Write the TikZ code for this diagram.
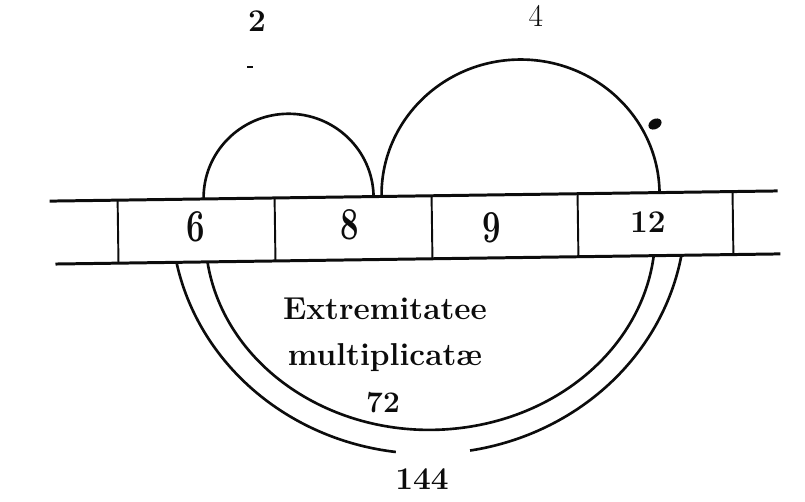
\documentclass[tikz,border=0pt]{standalone}
\usepackage{graphicx}
\usepackage{tikz}
\usetikzlibrary{calc}
\definecolor{Ink}{RGB}{12,12,12}
\newcommand{\narrowdigit}[1]{\scalebox{0.72}[1]{#1}}
\tikzset{
  rule/.style={draw=Ink, line width=1.7pt},
  divider/.style={draw=Ink, line width=1.1pt},
  curve/.style={draw=Ink, line width=1.5pt},
  cellnum/.style={font=\fontsize{26}{28}\selectfont\bfseries, text=Ink, inner sep=0pt},
  smallnum/.style={font=\fontsize{18}{21}\selectfont\bfseries, text=Ink, inner sep=0pt},
  toplabel/.style={font=\fontsize{18}{21}\selectfont, text=Ink, inner sep=0pt},
  caption/.style={font=\fontsize{18}{26}\selectfont\bfseries, text=Ink, align=center, inner sep=0pt}
}

\begin{document}
\begin{tikzpicture}[x=0.02cm, y=-0.02cm]
  \useasboundingbox (0,0) rectangle (805,501);

  \begin{scope}[rotate around={0.8:(415,227)}]
    \draw[rule] (50,196) -- (778,196);
    \draw[rule] (55,259) -- (780,259);
    \foreach \x in {118,275,432,578,733}
      \draw[divider] (\x,196) -- (\x,259);

    \node[cellnum] (n6) at (196,224) {\narrowdigit{6}};
    \node[cellnum] (n8) at (350,224) {\narrowdigit{8}};
    \node[cellnum] (n9) at (492,229) {\narrowdigit{9}};
    \node[smallnum] (n12) at (648,225) {12};

    \draw[curve] (204,196) arc[start angle=180, end angle=360, x radius=85, y radius=84];
    \draw[curve] (382,196) arc[start angle=180, end angle=360, x radius=139, y radius=135];

    \draw[curve] (207,259) arc[start angle=172.7, end angle=7.3, x radius=225, y radius=196];
    \draw[curve] (176,259) arc[start angle=169.2, end angle=98, x radius=257, y radius=240];
    \draw[curve] (467,451.3) arc[start angle=81.4, end angle=10.8, x radius=257, y radius=240];
  \end{scope}

  \fill[Ink, rotate around={30:(655,124)}] (655,124) ellipse[x radius=7, y radius=5];
  \draw[Ink, line width=1pt] (247,67) -- (253,67);

  \node[toplabel, font=\fontsize{18}{21}\selectfont\bfseries] (lbl2) at (257,21) {2};
  \node[toplabel] (lbl4) at (536,16) {4};
  \node[caption] (caption) at (385,335) {Extremitatee\\multiplicatæ};
  \node[font=\fontsize{17}{19}\selectfont\bfseries, text=Ink, inner sep=0pt] (lbl72) at (383,403) {72};
  \node[toplabel, font=\fontsize{18}{21}\selectfont\bfseries] (lbl144) at (422,479) {144};
\end{tikzpicture}
\end{document}
